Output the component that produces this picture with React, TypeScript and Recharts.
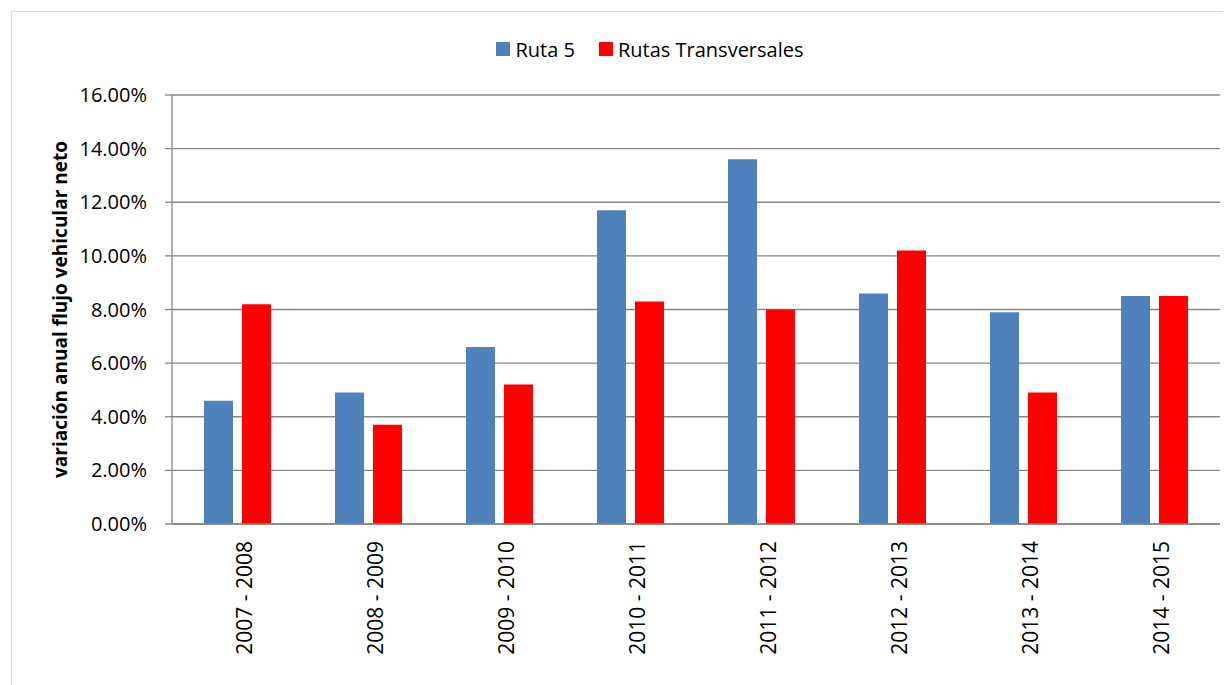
import { BarChart, Bar, XAxis, YAxis, CartesianGrid, Legend } from 'recharts'

const categories = [
  '2007 - 2008',
  '2008 - 2009',
  '2009 - 2010',
  '2010 - 2011',
  '2011 - 2012',
  '2012 - 2013',
  '2013 - 2014',
  '2014 - 2015',
]
const ruta5 = [4.6, 4.9, 6.6, 11.7, 13.6, 8.6, 7.9, 8.5]
const transversales = [8.2, 3.7, 5.2, 8.3, 8.0, 10.2, 4.9, 8.5]
const yTicks = [0, 2, 4, 6, 8, 10, 12, 14, 16]
// category boundaries (for the tick marks between groups)
const boundaries = [0, 1, 2, 3, 4, 5, 6, 7, 8]

const SERIES = [
  { key: 'ruta5', label: 'Ruta 5', color: '#4F81BD' },
  { key: 'transversales', label: 'Rutas Transversales', color: '#FF0000' },
]

const FONT = '"Open Sans", "Noto Sans", sans-serif'
const GRID = '#868686'

const data = categories.map((name, i) => ({
  name,
  ruta5: ruta5[i],
  transversales: transversales[i],
}))

function LegendContent({ payload }: any) {
  return (
    <div
      style={{
        display: 'flex',
        justifyContent: 'center',
        alignItems: 'center',
        height: 26,
        paddingLeft: 51,
        fontFamily: FONT,
        fontSize: 20,
        color: '#000',
      }}
    >
      {(payload || []).map((entry: any, i: number) => (
        <div key={i} style={{ display: 'flex', alignItems: 'center', marginRight: i < payload.length - 1 ? 24 : 0 }}>
          <span style={{ width: 14, height: 14, background: entry.color, display: 'inline-block', marginRight: 5 }} />
          <span>{entry.value}</span>
        </div>
      ))}
    </div>
  )
}

export default function App() {
  return (
    <div
      style={{
        marginTop: 3,
        marginLeft: 3,
        width: 1225,
        height: 680,
        border: '1px solid #d9d9d9',
        background: '#fff',
        position: 'relative',
      }}
    >
      <style>{'body{overflow:hidden}'}</style>
      <BarChart
        width={1225}
        height={680}
        data={data}
        margin={{ top: 57, right: 17, bottom: 17, left: 30 }}
        barGap={9}
        barCategoryGap={32}
      >
        <CartesianGrid vertical={false} stroke={GRID} strokeWidth={1.3} />
        <XAxis
          xAxisId="sep"
          type="number"
          domain={[0, 8]}
          ticks={boundaries}
          allowDataOverflow
          height={1}
          tick={false}
          axisLine={false}
          tickLine={{ stroke: GRID, strokeWidth: 1.3 }}
          tickSize={7}
        />
        <XAxis
          dataKey="name"
          height={150}
          interval={0}
          tickLine={false}
          tickSize={0}
          tickMargin={17}
          axisLine={{ stroke: GRID, strokeWidth: 1.3 }}
          tick={{ angle: -90, textAnchor: 'end', verticalAnchor: 'middle', fill: '#000', fontSize: 21, fontFamily: FONT }}
        />
        <YAxis
          width={130}
          domain={[0, 16]}
          ticks={yTicks}
          interval={0}
          tickFormatter={(v: number) => v.toFixed(2) + '%'}
          tickSize={7}
          tickMargin={18}
          axisLine={{ stroke: GRID, strokeWidth: 1.3 }}
          tickLine={{ stroke: GRID, strokeWidth: 1.3 }}
          tick={{ fill: '#000', fontSize: 20, fontFamily: FONT }}
          label={{
            value: 'variación anual flujo vehicular neto',
            angle: -90,
            position: 'insideLeft',
            offset: 18,
            style: { textAnchor: 'middle', fontWeight: 'bold', fontSize: 19, fontFamily: FONT, fill: '#000' },
          }}
        />
        <Legend
          verticalAlign="top"
          content={<LegendContent />}
          wrapperStyle={{ top: 24, left: 0, width: 1225 }}
        />
        {SERIES.map((s) => (
          <Bar key={s.key} dataKey={s.key} name={s.label} fill={s.color} isAnimationActive={false} />
        ))}
      </BarChart>
    </div>
  )
}
